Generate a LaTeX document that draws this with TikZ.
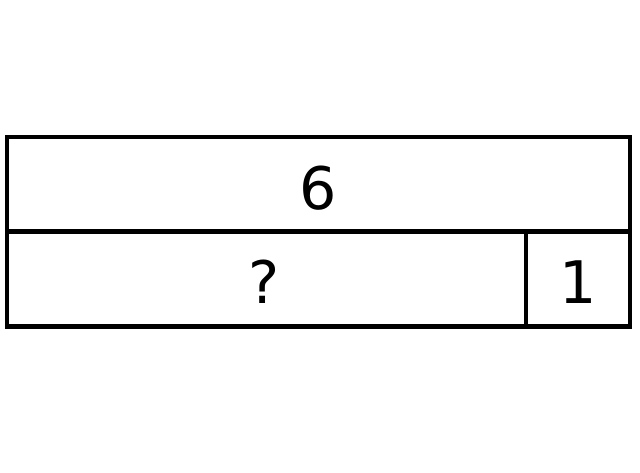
\documentclass[tikz,border=0pt]{standalone}
\usepackage{fontspec}
\setmainfont{DejaVu Sans}
\begin{document}
\begin{tikzpicture}[x=0.75pt,y=-0.75pt]
    \useasboundingbox (0,0) rectangle (640,473);
    \draw[line width=3.6pt] (7,137) rectangle (630,231.5);
    \draw[line width=3.6pt] (7,231.5) rectangle (526,326.5);
    \draw[line width=3.6pt] (526,231.5) rectangle (630,326.5);
    \node[font=\fontsize{44}{48}\selectfont] (total) at (318.5,188) {6};
    \node[font=\fontsize{44}{48}\selectfont] (unknown) at (264,282) {?};
    \node[font=\fontsize{44}{48}\selectfont] (one) at (578,282) {1};
\end{tikzpicture}
\end{document}
